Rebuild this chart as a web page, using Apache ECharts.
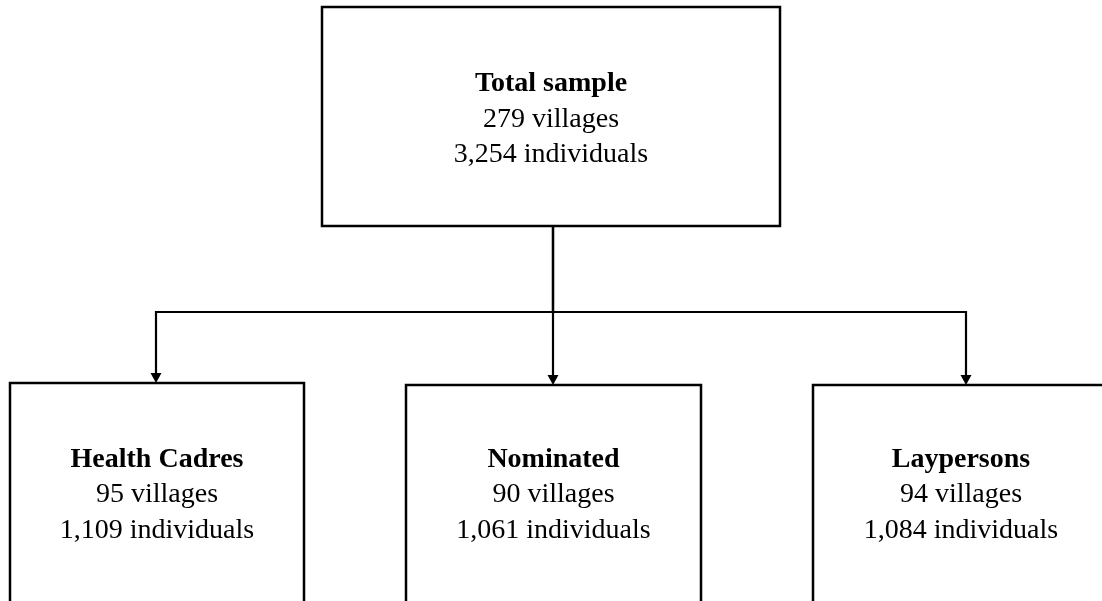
<!DOCTYPE html>
<html>
<head>
<meta charset="utf-8">
<script src="https://cdn.jsdelivr.net/npm/echarts@6/dist/echarts.min.js"></script>
<style>
html,body{margin:0;padding:0;background:#fff;}
#chart{width:1102px;height:601px;}
</style>
</head>
<body>
<div id="chart"></div>
<script>
// ---- data ----
const totalName = 'Total sample';
const totalVillages = 279;
const totalIndividuals = 3254;
const groupNames = ['Health Cadres', 'Nominated', 'Laypersons'];
const groupVillages = [95, 90, 94];
const groupIndividuals = [1109, 1061, 1084];

// ---- layout (plot units on hidden axes) ----
const layout = {
  top: { x0: 322, y0: 7, x1: 780, y1: 226, tx: 551, ty: 119.5 },
  children: [
    { x0: 10, y0: 383, x1: 304, y1: 650, tx: 157, ty: 495 },
    { x0: 406, y0: 385, x1: 701, y1: 650, tx: 553.5, ty: 495 },
    { x0: 813, y0: 385, x1: 1109, y1: 650, tx: 961, ty: 495 }
  ],
  arrowX: [156, 553, 966],
  stemX: 553,
  forkY: 312
};

const fmt = n => n.toLocaleString('en-US');
const nodes = [{ name: totalName, v: totalVillages, ind: totalIndividuals, box: layout.top }]
  .concat(groupNames.map((g, i) => ({ name: g, v: groupVillages[i], ind: groupIndividuals[i], box: layout.children[i] })));

const FONT = '"Liberation Serif","Times New Roman",serif';

const chart = echarts.init(document.getElementById('chart'), null, { renderer: 'canvas' });

function boxItem(params, api) {
  const n = nodes[api.value(0)];
  const b = n.box;
  const p0 = api.coord([b.x0, b.y0]);
  const p1 = api.coord([b.x1, b.y1]);
  const tc = api.coord([b.tx, b.ty]);
  return {
    type: 'group',
    children: [
      {
        type: 'rect',
        shape: { x: p0[0], y: p0[1], width: p1[0] - p0[0], height: p1[1] - p0[1] },
        style: { fill: '#fff', stroke: '#000', lineWidth: 2.5 }
      },
      {
        type: 'text',
        x: tc[0], y: tc[1],
        style: {
          text: '{b|' + n.name + '}\n{r|' + fmt(n.v) + ' villages}\n{r|' + fmt(n.ind) + ' individuals}',
          align: 'center',
          verticalAlign: 'middle',
          fill: '#000',
          fontFamily: FONT,
          fontSize: 28,
          lineHeight: 35.5,
          rich: {
            b: { fontFamily: FONT, fontSize: 28, fontWeight: 'bold', lineHeight: 35.5, fill: '#000' },
            r: { fontFamily: FONT, fontSize: 28, lineHeight: 35.5, fill: '#000' }
          }
        }
      }
    ]
  };
}

function linkItem(params, api) {
  const i = api.value(0);
  const c = layout.children[i];
  const ax = layout.arrowX[i];
  const start = api.coord([layout.stemX, layout.top.y1]);
  const fork = api.coord([layout.stemX, layout.forkY]);
  const corner = api.coord([ax, layout.forkY]);
  const tip = api.coord([ax, c.y0]);
  const ah = 10, aw = 5.5;
  return {
    type: 'group',
    children: [
      {
        type: 'polyline',
        shape: { points: [start, fork, corner, [tip[0], tip[1] - ah + 1]] },
        style: { stroke: '#000', lineWidth: 2.2, fill: null }
      },
      {
        type: 'polygon',
        shape: { points: [[tip[0] - aw, tip[1] - ah], [tip[0] + aw, tip[1] - ah], [tip[0], tip[1]]] },
        style: { fill: '#000' }
      }
    ]
  };
}

chart.setOption({
  animation: false,
  backgroundColor: '#fff',
  grid: { left: 0, right: 0, top: 0, bottom: 0 },
  xAxis: { type: 'value', min: 0, max: 1102, show: false },
  yAxis: { type: 'value', min: 0, max: 601, inverse: true, show: false },
  series: [
    {
      type: 'custom',
      renderItem: linkItem,
      data: groupNames.map((g, i) => [i]),
      silent: true
    },
    {
      type: 'custom',
      renderItem: boxItem,
      data: nodes.map((n, i) => [i]),
      silent: true
    }
  ]
});
</script>
</body>
</html>
